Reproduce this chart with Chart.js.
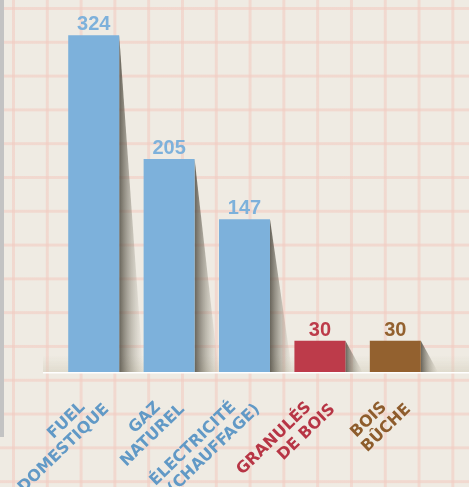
<!DOCTYPE html>
<html>
<head>
<meta charset="utf-8">
<script src="https://cdn.jsdelivr.net/npm/chart.js@4.4.1/dist/chart.umd.min.js"></script>
<style>
  html, body { margin: 0; padding: 0; }
  body {
    width: 469px; height: 487px; overflow: hidden; position: relative;
    background-color: #efebe3;
    background-image:
      linear-gradient(to right, rgba(242, 204, 194, 0.6) 2.5px, transparent 2.5px),
      linear-gradient(to bottom, rgba(242, 204, 194, 0.6) 2.5px, transparent 2.5px);
    background-size: 33.8px 33.8px;
    background-position: 12px 7px;
  }
  #strip { position: absolute; left: 0; top: 0; width: 4px; height: 437px; background: #c3c3c3; }
  #wrap { position: absolute; left: 0; top: 0; width: 469px; height: 487px; }
</style>
</head>
<body>
<div id="strip"></div>
<div id="wrap"><canvas id="chart"></canvas></div>
<script>
// data
var categories = [
  ["FUEL", "DOMESTIQUE"],
  ["GAZ", "NATUREL"],
  ["ÉLECTRICITÉ", "(CHAUFFAGE)"],
  ["GRANULÉS", "DE BOIS"],
  ["BOIS", "BÛCHE"]
];
var values = [324, 205, 147, 30, 30];
var barColors = ["#7db1db", "#7db1db", "#7db1db", "#bd3b4a", "#93612f"];
var labelColors = ["#6199c6", "#6199c6", "#6199c6", "#b73545", "#8e5c2c"];

var LABEL_FONT = "bold 16px 'DejaVu Sans', sans-serif";
var VALUE_FONT = "bold 20px 'Liberation Sans', Arial, sans-serif";

// shadows behind the bars + soft band along the base
var shadowPlugin = {
  id: 'shadows',
  beforeDatasetsDraw: function(chart) {
    var ctx = chart.ctx;
    var base = chart.chartArea.bottom;
    ctx.save();
    var band = ctx.createLinearGradient(0, base - 17, 0, base);
    band.addColorStop(0, 'rgba(215,210,190,0)');
    band.addColorStop(1, 'rgba(205,200,180,0.45)');
    ctx.fillStyle = band;
    ctx.fillRect(43, base - 17, chart.width - 43, 17);

    chart.getDatasetMeta(0).data.forEach(function(bar) {
      var right = bar.x + bar.width / 2;
      var h = base - bar.y;
      var off = 16 + 8 * Math.min(1, h / 200);
      var g = ctx.createLinearGradient(right, 0, right + off, 0);
      g.addColorStop(0, 'rgba(70,66,56,0.8)');
      g.addColorStop(0.5, 'rgba(120,115,100,0.4)');
      g.addColorStop(1, 'rgba(160,155,140,0)');
      ctx.fillStyle = g;
      ctx.beginPath();
      ctx.moveTo(right, bar.y);
      ctx.lineTo(right + off, base);
      ctx.lineTo(right, base);
      ctx.closePath();
      ctx.fill();
    });
    ctx.restore();
  },
  afterDatasetsDraw: function(chart) {
    var ctx = chart.ctx;
    var base = chart.chartArea.bottom;
    ctx.save();
    // base line
    ctx.strokeStyle = '#ffffff';
    ctx.lineWidth = 1.5;
    ctx.beginPath();
    ctx.moveTo(43, base + 0.75);
    ctx.lineTo(chart.width, base + 0.75);
    ctx.stroke();

    // values on top
    ctx.font = VALUE_FONT;
    ctx.textAlign = 'center';
    ctx.textBaseline = 'alphabetic';
    chart.getDatasetMeta(0).data.forEach(function(bar, i) {
      ctx.fillStyle = barColors[i];
      ctx.fillText(String(values[i]), bar.x, bar.y - 5);
    });

    // rotated category labels
    var xs = chart.scales.x;
    var ang = 44 * Math.PI / 180;
    ctx.font = LABEL_FONT;
    ctx.textAlign = 'right';
    categories.forEach(function(lines, i) {
      var x = xs.getPixelForValue(i);
      ctx.fillStyle = labelColors[i];
      lines.forEach(function(line, j) {
        ctx.save();
        ctx.translate(x - 8 + j * 24, base + 36 + j * 2);
        ctx.rotate(-ang);
        ctx.fillText(line, 0, 0);
        ctx.restore();
      });
    });
    ctx.restore();
  }
};

new Chart(document.getElementById('chart'), {
  type: 'bar',
  data: {
    labels: categories,
    datasets: [{
      data: values,
      backgroundColor: barColors,
      borderWidth: 0,
      categoryPercentage: 1,
      barPercentage: 0.676
    }]
  },
  options: {
    responsive: true,
    maintainAspectRatio: false,
    animation: false,
    layout: { padding: { top: 0, left: 56, right: 36, bottom: 115 } },
    plugins: { legend: { display: false }, tooltip: { enabled: false } },
    scales: {
      x: { display: false },
      y: { display: false, min: 0, max: 358 }
    }
  },
  plugins: [shadowPlugin]
});
</script>
</body>
</html>
